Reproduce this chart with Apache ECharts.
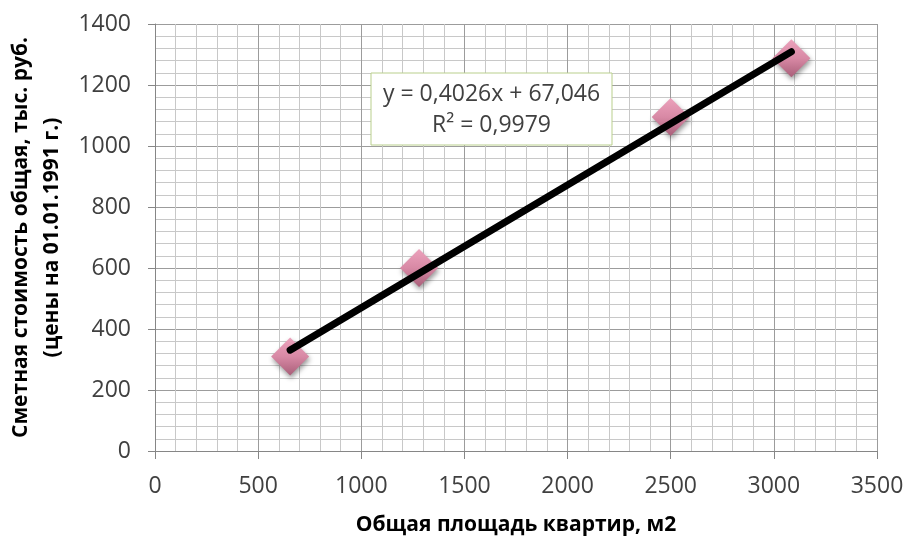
<!DOCTYPE html>
<html>
<head>
<meta charset="utf-8">
<script src="https://cdn.jsdelivr.net/npm/echarts@6/dist/echarts.min.js"></script>
<style>html,body{margin:0;padding:0;background:#fff}#c{width:909px;height:537px}</style>
</head>
<body>
<div id="c"></div>
<script>
// Data
var areaValues = [655, 1280, 2500, 3085];
var costValues = [310, 600, 1095, 1288];
var trendSlope = 0.4026;
var trendIntercept = 67.046;
var equationText = 'y = 0,4026x + 67,046';
var r2Text = 'R² = 0,9979';
var xTitle = 'Общая площадь квартир, м2';
var yTitleLines = ['Сметная стоимость общая, тыс. руб.', '(цены на 01.01.1991 г.)'];

var points = areaValues.map(function (x, i) { return [x, costValues[i]]; });
var xMin = Math.min.apply(null, areaValues), xMax = Math.max.apply(null, areaValues);
var trend = [[xMin, trendSlope * xMin + trendIntercept], [xMax, trendSlope * xMax + trendIntercept]];

var FONT = 'Open Sans';
function plain(v) { return String(v); }
var chart = echarts.init(document.getElementById('c'), null, {renderer: 'canvas'});
chart.setOption({
  animation: false,
  backgroundColor: '#fff',
  grid: {left: 155, right: 32, top: 24, bottom: 86, containLabel: false, outerBoundsMode: 'none'},
  xAxis: {
    type: 'value', min: 0, max: 3500, interval: 500,
    name: xTitle, nameLocation: 'middle', nameGap: 64,
    nameTextStyle: {fontFamily: FONT, fontWeight: 'bold', fontSize: 21, color: '#000'},
    axisLine: {show: true, lineStyle: {color: '#868686', width: 1}},
    axisTick: {show: true, length: 8, lineStyle: {color: '#868686'}},
    axisLabel: {fontFamily: FONT, fontSize: 23, color: '#404040', margin: 24, formatter: plain},
    splitLine: {show: true, lineStyle: {color: '#9c9c9c', width: 1}},
    minorTick: {show: false, splitNumber: 5},
    minorSplitLine: {show: true, lineStyle: {color: '#c8c8c8', width: 1}}
  },
  yAxis: {
    type: 'value', min: 0, max: 1400, interval: 200,
    name: yTitleLines.join('\n'), nameLocation: 'middle', nameGap: 86, nameRotate: 90,
    nameTextStyle: {fontFamily: FONT, fontWeight: 'bold', fontSize: 21, color: '#000', lineHeight: 31, align: 'center'},
    axisLine: {show: true, lineStyle: {color: '#868686', width: 1}},
    axisTick: {show: true, length: 7, lineStyle: {color: '#868686'}},
    axisLabel: {fontFamily: FONT, fontSize: 23, color: '#404040', margin: 24, formatter: plain},
    splitLine: {show: true, lineStyle: {color: '#9c9c9c', width: 1}},
    minorTick: {show: false, splitNumber: 5},
    minorSplitLine: {show: true, lineStyle: {color: '#c8c8c8', width: 1}}
  },
  graphic: [
    {type: 'rect', z: 100, shape: {x: 371, y: 73, width: 241, height: 72},
     style: {fill: '#ffffff', stroke: '#b9cf8c', lineWidth: 1}},
    {type: 'text', z: 101, x: 491.5, y: 94, style: {text: equationText, font: '23px "Open Sans"', fill: '#404040', align: 'center', verticalAlign: 'middle'}},
    {type: 'text', z: 101, x: 491.5, y: 125, style: {text: r2Text, font: '23px "Open Sans"', fill: '#404040', align: 'center', verticalAlign: 'middle'}}
  ],
  series: [
    {
      type: 'scatter', data: points, symbol: 'diamond', symbolSize: [38, 38], z: 2,
      itemStyle: {
        opacity: 1,
        color: new echarts.graphic.LinearGradient(0, 0, 0, 1, [
          {offset: 0, color: '#eca2bc'},
          {offset: 0.5, color: '#d889a5'},
          {offset: 1, color: '#a95f79'}
        ]),
        shadowColor: 'rgba(0,0,0,0.4)', shadowBlur: 5, shadowOffsetX: 1, shadowOffsetY: 3
      },
      emphasis: {disabled: true}
    },
    {
      type: 'line', data: trend, showSymbol: false, symbol: 'none', z: 3,
      lineStyle: {color: '#000', width: 7, cap: 'round'},
      emphasis: {disabled: true}
    }
  ]
});
</script>
</body>
</html>
